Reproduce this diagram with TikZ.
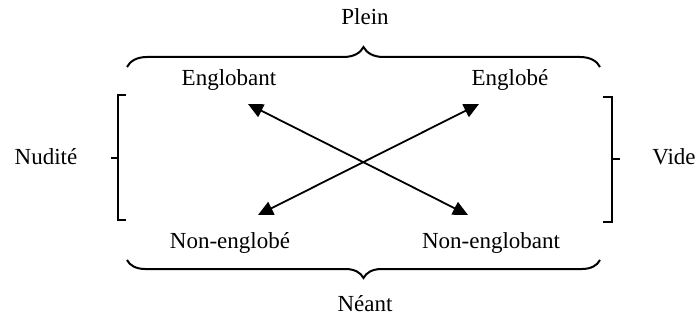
\documentclass[tikz,border=0pt]{standalone}
\usepackage{fontspec}
\setmainfont{Liberation Serif}
\usetikzlibrary{arrows.meta,decorations.pathreplacing}
\begin{document}
\begin{tikzpicture}[x=1pt,y=-1pt,
  lbl/.style={font=\fontsize{23}{28}\selectfont, inner sep=0pt, anchor=base},
  bracestyle/.style={line width=2pt, decorate, decoration={brace, amplitude=#1}},
  bracket/.style={line width=2.2pt},
  dblarrow/.style={line width=1.8pt, {Triangle[length=15pt,width=14pt]}-{Triangle[length=15pt,width=14pt]}}]
\useasboundingbox (0,0) rectangle (698,320);
% labels
\node[lbl] (plein) at (365,25) {Plein};
\node[lbl] (neant) at (365,311) {Néant};
\node[lbl] (nudite) at (46,165) {Nudité};
\node[lbl] (vide) at (674,165) {Vide};
\node[lbl] (englobant) at (229,86) {Englobant};
\node[lbl] (englobe) at (510,86) {Englobé};
\node[lbl] (nonenglobe) at (230,248) {Non-englobé};
\node[lbl] (nonenglobant) at (491,248) {Non-englobant};
% braces
\coordinate (tbl) at (127,67);
\coordinate (tbr) at (600,67);
\coordinate (bbl) at (127,260);
\coordinate (bbr) at (600,260);
\draw[bracestyle=20pt] (tbl) -- (tbr);
\draw[bracestyle=18pt] (bbr) -- (bbl);
% brackets
\coordinate (lb1) at (126,95);
\coordinate (lb2) at (118,95);
\coordinate (lb3) at (118,220);
\coordinate (lb4) at (126,220);
\coordinate (lbm) at (118,158);
\coordinate (lbt) at (111,158);
\draw[bracket] (lb1) -- (lb2) -- (lb3) -- (lb4);
\draw[bracket] (lbm) -- (lbt);
\coordinate (rb1) at (603,97);
\coordinate (rb2) at (612,97);
\coordinate (rb3) at (612,222);
\coordinate (rb4) at (603,222);
\coordinate (rbm) at (612,159);
\coordinate (rbt) at (620,159);
\draw[bracket] (rb1) -- (rb2) -- (rb3) -- (rb4);
\draw[bracket] (rbm) -- (rbt);
% arrows
\coordinate (a1) at (248,104);
\coordinate (a2) at (468,215);
\coordinate (b1) at (258,215);
\coordinate (b2) at (479,104);
\draw[dblarrow] (a1) -- (a2);
\draw[dblarrow] (b1) -- (b2);
\end{tikzpicture}
\end{document}
